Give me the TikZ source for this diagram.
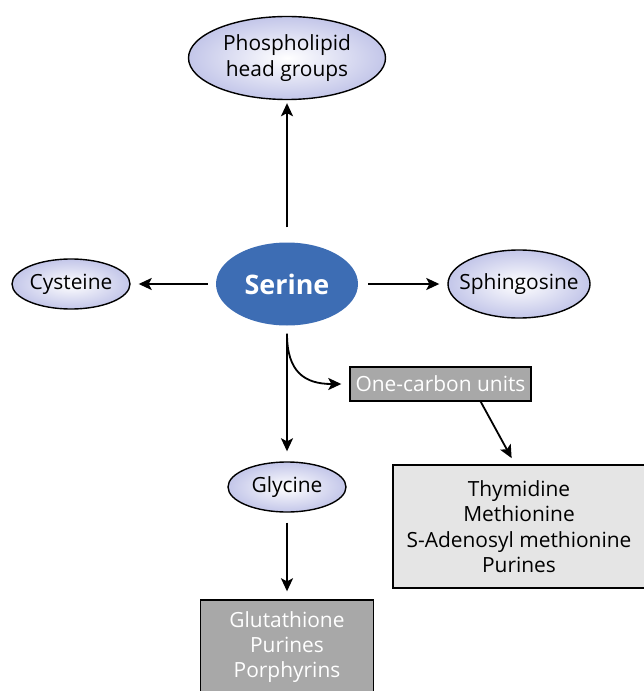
\documentclass[tikz,border=0pt]{standalone}
\usepackage{fontspec}
\setmainfont{Open Sans}
\usetikzlibrary{arrows.meta,shapes.geometric}

\definecolor{serineblue}{HTML}{3D6DB4}
\definecolor{ovalrim}{HTML}{C3C6E9}
\definecolor{darkbox}{HTML}{A8A8A8}
\definecolor{lightbox}{HTML}{E5E5E5}

\tikzset{
    every node/.style={font=\fontsize{21}{25.5}\selectfont},
    oval/.style={ellipse, draw, line width=1.4bp, shading=radial, inner color=white,
                 outer color=ovalrim, inner xsep=-20bp, inner ysep=0pt, align=center},
    boxdark/.style={rectangle, draw, line width=1.4bp, fill=darkbox, text=white,
                    inner sep=0pt, align=center},
    boxlight/.style={rectangle, draw, line width=1.4bp, fill=lightbox,
                     inner sep=0pt, align=center},
    flow/.style={line width=1.8bp, -{Stealth[length=13bp,width=12bp,inset=3bp]}}
}

\newcommand{\setup}{
    \coordinate (p0) at (287,58);    % phospholipid
    \coordinate (p1) at (287,284);   % serine
    \coordinate (p2) at (71,284);    % cysteine
    \coordinate (p3) at (519,284);   % sphingosine
    \coordinate (p4) at (440.5,384); % one-carbon
    \coordinate (p5) at (519,526.5); % products right
    \coordinate (p6) at (287,487);   % glycine
    \coordinate (p7) at (287,647);   % products below
}

\begin{document}
\begin{tikzpicture}[x=1bp,y=-1bp]
    \useasboundingbox (0,0) rectangle (644,691);
    \setup;

    \node[oval, minimum width=197bp, minimum height=83bp] (phos) at (p0) {Phospholipid\\head groups};
    \node[ellipse, fill=serineblue, text=white, minimum width=142bp, minimum height=83bp,
          font=\fontsize{27}{30}\selectfont\bfseries] (serine) at (p1) {Serine};
    \node[oval, minimum width=118bp, minimum height=50bp] (cys) at (p2) {Cysteine};
    \node[oval, minimum width=142bp, minimum height=68bp] (sphing) at (p3) {Sphingosine};
    \node[boxdark, minimum width=181bp, minimum height=34bp] (onecarbon) at (p4) {One-carbon units};
    \node[boxlight, minimum width=252bp, minimum height=123bp] (thym) at (p5)
        {Thymidine\\Methionine\\S-Adenosyl methionine\\Purines};
    \node[oval, minimum width=118bp, minimum height=50bp] (gly) at (p6) {Glycine};
    \node[boxdark, minimum width=173bp, minimum height=94bp] (glut) at (p7)
        {Glutathione\\Purines\\Porphyrins};

    \draw[flow, shorten <=15bp, shorten >=3bp] (serine) -- (phos);
    \draw[flow, shorten <=8bp, shorten >=8bp] (serine) -- (cys);
    \draw[flow, shorten <=10bp, shorten >=8bp] (serine) -- (sphing);
    \draw[flow, shorten <=8bp, shorten >=10bp] (serine) -- (gly);
    \draw[flow, shorten <=10bp, shorten >=8bp] (gly) -- (glut);
    \draw[flow, shorten >=8bp] ([yshift=-8bp]serine.south) .. controls +(0,38) and +(-45,0) .. (onecarbon.west);
    \draw[flow, shorten >=7bp] ([xshift=-51bp]onecarbon.south east) -- ([xshift=-4bp]thym.north);
\end{tikzpicture}
\end{document}
